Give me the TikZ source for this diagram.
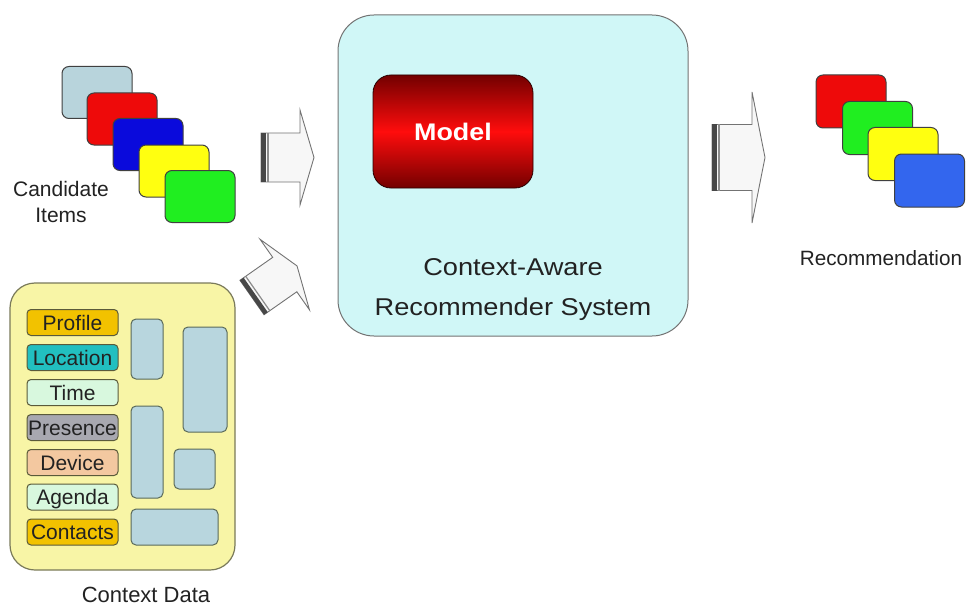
\documentclass[tikz,border=0pt]{standalone}
\usepackage{fontspec}
\setmainfont{Liberation Sans}
\newfontfamily\widefont[FakeStretch=1.12]{Liberation Sans}
\definecolor{cardlb}{HTML}{B8D4DC}
\definecolor{cardred}{HTML}{EE0A0A}
\definecolor{cardblue}{HTML}{0A0ADC}
\definecolor{cardyel}{HTML}{FFFF10}
\definecolor{cardgreen}{HTML}{20EE20}
\definecolor{recblue}{HTML}{3366EE}
\definecolor{mainfill}{HTML}{D0F7F7}
\definecolor{panelfill}{HTML}{F8F5A6}
\definecolor{paneldraw}{HTML}{7A7A5A}
\definecolor{lbldraw}{HTML}{5A5A3A}
\definecolor{cgold}{HTML}{F2C200}
\definecolor{cteal}{HTML}{22BFC0}
\definecolor{cmint}{HTML}{D8F8DE}
\definecolor{cgray}{HTML}{A8A8B0}
\definecolor{cpeach}{HTML}{F3C8A0}
\definecolor{blkfill}{HTML}{B8D6DE}
\definecolor{blkdraw}{HTML}{5A6A5A}
\definecolor{txt}{HTML}{222222}
\newcommand{\myblockarrow}[4]{%
  \filldraw[arrowbody] (0,-#2) -- (#1,-#2) -- (#1,-#3) -- (#1+#4,0) -- (#1,#3) -- (#1,#2) -- (0,#2) -- cycle;
  \fill[black!72] (0,-#2) rectangle (4.5,#2);
  \draw[black!45, line width=1.2pt] (7,-#2) -- (7,#2);
}
\begin{document}
\begin{tikzpicture}[x=1pt,y=1pt,
  card/.style={draw=black!75, line width=1pt, rounded corners=7pt,
    minimum width=70pt, minimum height=52pt, inner sep=0pt},
  lbl/.style={draw=lbldraw, line width=1pt, rounded corners=4pt,
    minimum width=91pt, minimum height=26pt, inner sep=0pt,
    text height=15pt, text depth=0pt, text=txt,
    font=\fontsize{21}{24}\selectfont},
  blk/.style={draw=blkdraw, fill=blkfill, line width=1pt, rounded corners=5pt},
  arrowbody/.style={fill=black!3, draw=black!55, line width=0.9pt},
  caption/.style={text=txt, inner sep=0pt, anchor=base}
]
\useasboundingbox (0,0) rectangle (966,-607);

% Candidate items
\node[card, fill=cardlb]    (c1) at (97,-92.5) {};
\node[card, fill=cardred]   (c2) at (122,-119) {};
\node[card, fill=cardblue]  (c3) at (148,-144.5) {};
\node[card, fill=cardyel]   (c4) at (174,-171) {};
\node[card, fill=cardgreen] (c5) at (200,-196.5) {};
\node[caption, font=\fontsize{21}{24}\selectfont] (cand1) at (61,-196.4) {Candidate};
\node[caption, font=\fontsize{21}{24}\selectfont] (cand2) at (61,-222.4) {Items};

% Arrows into system
\begin{scope}[shift={(261,-157.5)}]
  \myblockarrow{39}{24.5}{47.5}{14}
\end{scope}
\begin{scope}[shift={(252,-297.5)}, rotate=35]
  \myblockarrow{40}{21}{43}{15}
\end{scope}

% Main system
\node[draw=black!55, line width=1pt, fill=mainfill, rounded corners=36pt,
  minimum width=350pt, minimum height=321pt, inner sep=0pt] (sys) at (513,-175.5) {};
\node[rounded corners=18pt, draw=black!60!red!40!black, line width=0.8pt,
  top color=red!45!black, bottom color=red!45!black, middle color=red!95!white,
  minimum width=160pt, minimum height=113pt, inner sep=0pt,
  text=white, font=\widefont\bfseries\fontsize{24}{28}\selectfont] (model) at (453,-131.5) {Model};
\node[caption, font=\widefont\fontsize{24.3}{28}\selectfont] (sys1) at (513,-275.3) {Context-Aware};
\node[caption, font=\widefont\fontsize{24.3}{28}\selectfont] (sys2) at (513,-315.5) {Recommender System};

% Arrow out
\begin{scope}[shift={(712,-157.5)}]
  \myblockarrow{40}{33}{65.5}{13}
\end{scope}

% Recommendation
\node[card, fill=cardred, minimum height=53pt]   (r1) at (851,-101.5) {};
\node[card, fill=cardgreen, minimum height=53pt] (r2) at (877.5,-128) {};
\node[card, fill=cardyel, minimum height=53pt]   (r3) at (903,-154) {};
\node[card, fill=recblue, minimum height=53pt]   (r4) at (929.5,-180.5) {};
\node[caption, font=\fontsize{20.7}{24}\selectfont] (rec) at (881,-265) {Recommendation};

% Context data panel
\node[draw=paneldraw, fill=panelfill, line width=1.2pt, rounded corners=25pt,
  minimum width=225pt, minimum height=287pt, inner sep=0pt] (panel) at (122.5,-426.5) {};
\node[lbl, fill=cgold]  (profile)  at (72.5,-322.5) {Profile};
\node[lbl, fill=cteal]  (location) at (72.5,-357.5) {Location};
\node[lbl, fill=cmint]  (time)     at (72.5,-392.5) {Time};
\node[lbl, fill=cgray]  (presence) at (72.5,-427.5) {Presence};
\node[lbl, fill=cpeach] (device)   at (72.5,-462.5) {Device};
\node[lbl, fill=cmint]  (agenda)   at (72.5,-497) {Agenda};
\node[lbl, fill=cgold]  (contacts) at (72.5,-532) {Contacts};
\node[blk, minimum width=32pt, minimum height=60pt, inner sep=0pt] (b1) at (147,-349) {};
\node[blk, minimum width=44pt, minimum height=105pt, inner sep=0pt] (b2) at (205,-379.5) {};
\node[blk, minimum width=32pt, minimum height=92pt, inner sep=0pt] (b3) at (147,-452) {};
\node[blk, minimum width=41pt, minimum height=40pt, inner sep=0pt] (b4) at (194.5,-469) {};
\node[blk, minimum width=87pt, minimum height=36pt, inner sep=0pt] (b5) at (174.5,-527) {};
\node[caption, font=\fontsize{22}{26}\selectfont] (ctxdata) at (146,-602) {Context Data};
\end{tikzpicture}
\end{document}
